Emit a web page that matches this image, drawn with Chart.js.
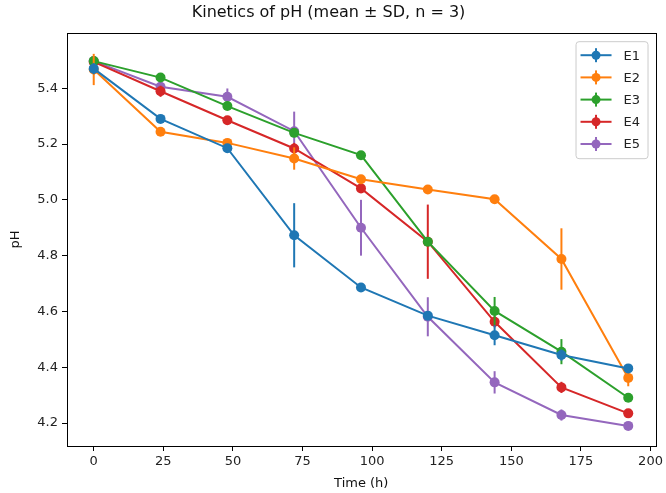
<!DOCTYPE html>
<html>
<head>
<meta charset="utf-8">
<script src="https://cdn.jsdelivr.net/npm/chart.js@4.4.1/dist/chart.umd.min.js"></script>
<style>
  html, body { margin: 0; padding: 0; background: #ffffff; }
  #wrap { width: 666px; height: 493px; position: relative; }
</style>
</head>
<body>
<div id="wrap"><canvas id="c" width="666" height="493"></canvas></div>
<script>
// ---- data ----
const times = [0, 24, 48, 72, 96, 120, 144, 168, 192];
const seriesNames = ["E1", "E2", "E3", "E4", "E5"];
const e1Mean = [5.470, 5.290, 5.185, 4.873, 4.686, 4.585, 4.515, 4.444, 4.396];
const e2Mean = [5.467, 5.244, 5.204, 5.148, 5.074, 5.037, 5.002, 4.788, 4.362];
const e3Mean = [5.497, 5.438, 5.336, 5.240, 5.160, 4.850, 4.602, 4.456, 4.291];
const e4Mean = [5.494, 5.389, 5.285, 5.184, 5.041, 4.850, 4.563, 4.328, 4.235];
const e5Mean = [5.497, 5.405, 5.369, 5.246, 4.900, 4.581, 4.346, 4.229, 4.190];
const e1Sd = [0.020, 0.010, 0.010, 0.115, 0.010, 0.010, 0.036, 0.020, 0.010];
const e2Sd = [0.056, 0.010, 0.010, 0.040, 0.010, 0.010, 0.010, 0.110, 0.030];
const e3Sd = [0.010, 0.010, 0.010, 0.010, 0.010, 0.010, 0.050, 0.045, 0.010];
const e4Sd = [0.010, 0.020, 0.010, 0.020, 0.010, 0.133, 0.020, 0.020, 0.010];
const e5Sd = [0.010, 0.020, 0.030, 0.070, 0.100, 0.070, 0.040, 0.020, 0.010];
const xTicks = [0, 25, 50, 75, 100, 125, 150, 175, 200];
const yTicks = [4.2, 4.4, 4.6, 4.8, 5.0, 5.2, 5.4];

const colors = ["#1f77b4", "#ff7f0e", "#2ca02c", "#d62728", "#9467bd"];
const means = [e1Mean, e2Mean, e3Mean, e4Mean, e5Mean];
const sds = [e1Sd, e2Sd, e3Sd, e4Sd, e5Sd];

const FONT = "'DejaVu Sans', sans-serif";

const datasets = seriesNames.map((name, i) => ({
  label: name,
  data: times.map((t, j) => ({ x: t, y: means[i][j] })),
  sd: sds[i],
  borderColor: colors[i],
  backgroundColor: colors[i],
  borderWidth: 2,
  pointRadius: 5,
  pointHoverRadius: 5,
  pointBorderWidth: 0,
  pointBackgroundColor: colors[i],
  tension: 0,
  fill: false
}));

// error bars drawn per dataset through the scales
const errorBars = {
  id: 'errorBars',
  beforeDatasetDraw(chart, args) {
    const ds = chart.data.datasets[args.index];
    const xs = chart.scales.x, ys = chart.scales.y;
    const ctx = chart.ctx;
    ctx.save();
    ctx.strokeStyle = ds.borderColor;
    ctx.lineWidth = 2;
    ds.data.forEach((p, j) => {
      const sd = ds.sd[j];
      const px = xs.getPixelForValue(p.x);
      ctx.beginPath();
      ctx.moveTo(px, ys.getPixelForValue(p.y - sd));
      ctx.lineTo(px, ys.getPixelForValue(p.y + sd));
      ctx.stroke();
    });
    ctx.restore();
  }
};

// full frame around plot area
const frame = {
  id: 'frame',
  afterDraw(chart) {
    const a = chart.chartArea, ctx = chart.ctx;
    ctx.save();
    ctx.strokeStyle = '#000';
    ctx.lineWidth = 1;
    ctx.strokeRect(Math.round(a.left) + 0.5, Math.round(a.top) + 0.5,
                   Math.round(a.right - a.left), Math.round(a.bottom - a.top));
    ctx.restore();
  }
};

// matplotlib-like legend in upper right
const mplLegend = {
  id: 'mplLegend',
  afterDraw(chart) {
    const a = chart.chartArea, ctx = chart.ctx;
    const w = 72, h = 117;
    const x0 = a.right - 8 - w, y0 = a.top + 8;
    ctx.save();
    ctx.fillStyle = 'rgba(255,255,255,0.8)';
    ctx.strokeStyle = '#cccccc';
    ctx.lineWidth = 1;
    ctx.beginPath();
    ctx.roundRect(x0 + 0.5, y0 + 0.5, w, h, 3);
    ctx.fill();
    ctx.stroke();
    ctx.font = "13px " + FONT;
    ctx.textBaseline = 'middle';
    chart.data.datasets.forEach((ds, i) => {
      const cy = y0 + 14 + i * 22.2;
      const lx = x0 + 5, rx = x0 + 36, mx = (lx + rx) / 2;
      ctx.strokeStyle = ds.borderColor;
      ctx.lineWidth = 2;
      ctx.beginPath(); ctx.moveTo(lx, cy); ctx.lineTo(rx, cy); ctx.stroke();
      ctx.beginPath(); ctx.moveTo(mx, cy - 7); ctx.lineTo(mx, cy + 7); ctx.stroke();
      ctx.fillStyle = ds.borderColor;
      ctx.beginPath(); ctx.arc(mx, cy, 4.5, 0, Math.PI * 2); ctx.fill();
      ctx.fillStyle = '#222';
      ctx.fillText(ds.label, x0 + 48, cy + 1);
    });
    ctx.restore();
  }
};

new Chart(document.getElementById('c'), {
  type: 'line',
  data: { datasets },
  plugins: [errorBars, frame, mplLegend],
  options: {
    responsive: false,
    animation: false,
    events: [],
    layout: { padding: { left: 0, right: 9, top: 0, bottom: 0 } },
    plugins: {
      legend: { display: false },
      tooltip: { enabled: false },
      title: {
        display: true,
        text: 'Kinetics of pH (mean ± SD, n = 3)',
        color: '#111',
        font: { family: FONT, size: 16, weight: 'normal', lineHeight: 1.2 },
        padding: { top: 3, bottom: 11 }
      }
    },
    scales: {
      x: {
        type: 'linear',
        min: -9.6,
        max: 201.8,
        afterBuildTicks(scale) { scale.ticks = xTicks.map(v => ({ value: v })); },
        afterFit(scale) { scale.height = 47; },
        ticks: {
          includeBounds: false,
          color: '#222',
          font: { family: FONT, size: 13 },
          padding: 3,
          maxRotation: 0,
          autoSkip: false,
          callback: v => String(v)
        },
        grid: { drawOnChartArea: false, drawTicks: true, tickLength: 5, color: '#000' },
        border: { display: true, color: '#000' },
        title: {
          display: true, text: 'Time (h)', color: '#111',
          font: { family: FONT, size: 13 }, padding: { top: 0, bottom: 2 }
        }
      },
      y: {
        type: 'linear',
        min: 4.118,
        max: 5.597,
        afterBuildTicks(scale) { scale.ticks = yTicks.map(v => ({ value: v })); },
        afterFit(scale) { scale.width = 67; },
        ticks: {
          includeBounds: false,
          color: '#222',
          font: { family: FONT, size: 13 },
          padding: 4,
          autoSkip: false,
          callback: v => Number(v).toFixed(1)
        },
        grid: { drawOnChartArea: false, drawTicks: true, tickLength: 5, color: '#000' },
        border: { display: true, color: '#000' },
        title: {
          display: true, text: 'pH', color: '#111',
          font: { family: FONT, size: 13 }, padding: { top: 8, bottom: 0 }
        }
      }
    }
  }
});
</script>
</body>
</html>
